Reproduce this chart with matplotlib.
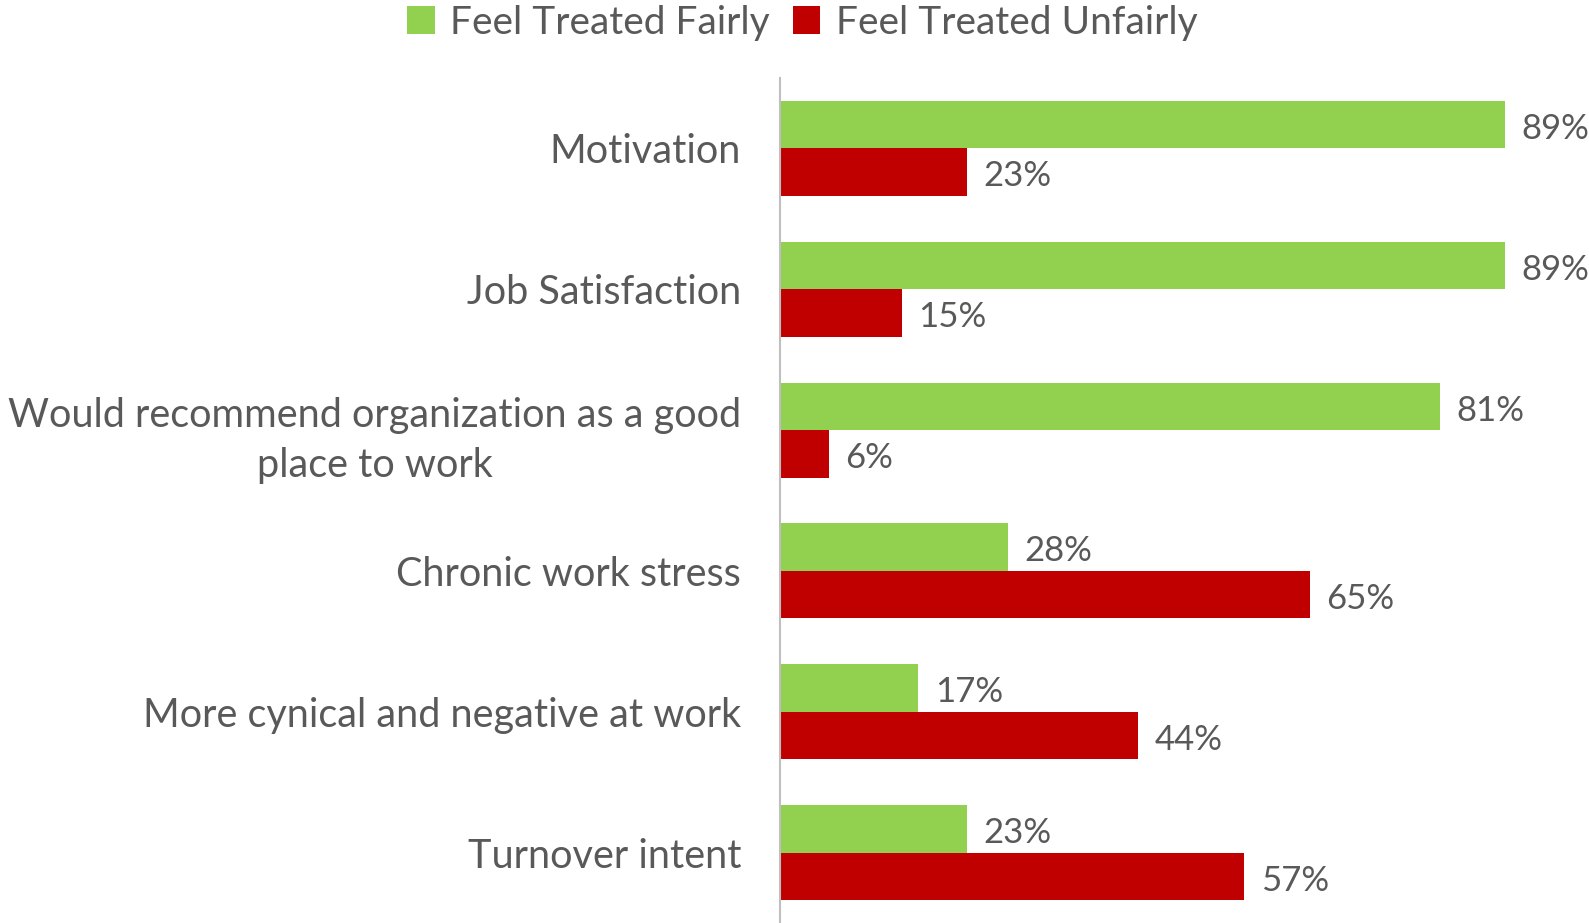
import matplotlib.pyplot as plt
import numpy as np

categories = ["Motivation", "Job Satisfaction",
              "Would recommend organization as a good\nplace to work",
              "Chronic work stress", "More cynical and negative at work",
              "Turnover intent"]
fair = [89, 89, 81, 28, 17, 23]
unfair = [23, 15, 6, 65, 44, 57]

GREEN = "#92D050"
RED = "#C00000"
TEXT = "#595959"

plt.rcParams['font.family'] = ['Lato', 'DejaVu Sans']

fig = plt.figure(figsize=(15.89, 9.23), dpi=100)
ax = fig.add_axes([780 / 1589, 0, 1 - 780 / 1589, 845 / 923])

y = np.arange(len(categories))
h = 0.337
ax.barh(y - h / 2, fair, height=h, color=GREEN, label="Feel Treated Fairly")
ax.barh(y + h / 2, unfair, height=h, color=RED, label="Feel Treated Unfairly")

for yi, v in zip(y, fair):
    ax.text(v + 2, yi - h / 2 + 0.03, f"{v}%", va="center", ha="left", fontsize=25, color=TEXT)
for yi, v in zip(y, unfair):
    ax.text(v + 2, yi + h / 2 + 0.03, f"{v}%", va="center", ha="left", fontsize=25, color=TEXT)

ax.set_xlim(0, 99.3)
ax.set_ylim(5.5, -0.5)
ax.set_xticks([])
ax.set_yticks(y)
ax.set_yticklabels(categories, fontsize=28.5, color=TEXT, multialignment="center",
                   linespacing=1.45)
ax.tick_params(axis="y", length=0, pad=28)
for s in ["top", "right", "bottom"]:
    ax.spines[s].set_visible(False)
ax.spines["left"].set_color("#BFBFBF")
ax.spines["left"].set_linewidth(1.5)

fig.legend(loc="upper center", bbox_to_anchor=(0.505, 1.033), ncol=2, frameon=False,
           fontsize=28, labelcolor=TEXT, handlelength=0.7, handleheight=0.7,
           handletextpad=0.4, columnspacing=0.6)

fig.savefig("out.png", dpi=100)
